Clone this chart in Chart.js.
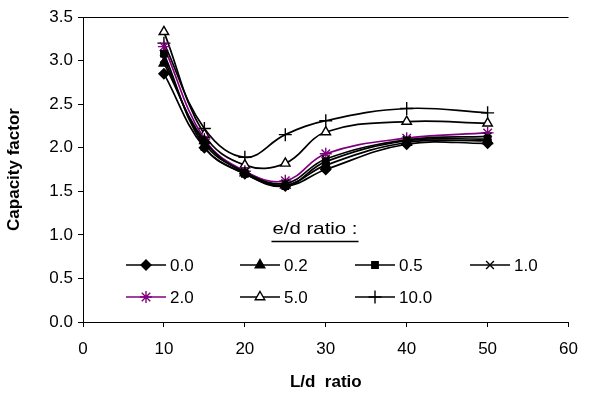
<!DOCTYPE html>
<html><head><meta charset="utf-8">
<script src="https://cdn.jsdelivr.net/npm/chart.js@4/dist/chart.umd.min.js"></script>
<style>html,body{margin:0;padding:0;background:#fff}#wrap{width:590px;height:397px}</style>
</head><body><div id="wrap"><canvas id="c" width="590" height="397"></canvas></div>
<script>
const xValues = [10, 15, 20, 25, 30, 40, 50];
const labels = ['0.0', '0.2', '0.5', '1.0', '2.0', '5.0', '10.0'];
const s00 = [2.85, 2.00, 1.70, 1.56, 1.75, 2.04, 2.05];
const s02 = [2.97, 2.08, 1.71, 1.57, 1.80, 2.06, 2.08];
const s05 = [3.08, 2.01, 1.70, 1.56, 1.84, 2.08, 2.10];
const s10 = [3.02, 2.05, 1.72, 1.59, 1.87, 2.09, 2.13];
const s20 = [3.16, 2.10, 1.73, 1.62, 1.93, 2.11, 2.17];
const s50 = [3.33, 2.15, 1.80, 1.82, 2.18, 2.30, 2.28];
const s100 = [3.20, 2.22, 1.89, 2.15, 2.31, 2.45, 2.40];
const legendTitle = 'e/d ratio :';

const series = [s00, s02, s05, s10, s20, s50, s100];
const styles = [
  {pointStyle:'rectRot', color:'#000', fill:'#000', r:5},
  {pointStyle:'triangle', color:'#000', fill:'#000', r:5.5},
  {pointStyle:'rect', color:'#000', fill:'#000', r:4.5},
  {pointStyle:'crossRot', color:'#000', fill:'#000', r:5.5},
  {pointStyle:'star', color:'#800080', fill:'#800080', r:6},
  {pointStyle:'triangle', color:'#000', fill:'#fff', r:5.5},
  {pointStyle:'cross', color:'#000', fill:'#000', r:6.5}
];
const FONT = '"Liberation Sans", Arial, sans-serif';
const FS = 17;

const datasets = series.map((s, i) => ({
  label: labels[i],
  data: s.map((v, j) => ({x: xValues[j], y: v})),
  borderColor: styles[i].color,
  backgroundColor: styles[i].fill,
  pointBorderColor: styles[i].color,
  pointBackgroundColor: styles[i].fill,
  pointStyle: styles[i].pointStyle,
  pointRadius: styles[i].r,
  pointBorderWidth: 1.4,
  borderWidth: 1.7,
  tension: 0.4,
  fill: false
}));

const extras = {
  id: 'extras',
  afterDatasetsDraw(chart) {
    const ctx = chart.ctx, a = chart.chartArea;
    ctx.save();
    ctx.strokeStyle = '#000'; ctx.lineWidth = 1;
    ctx.beginPath(); ctx.moveTo(a.left, a.top + 0.5); ctx.lineTo(a.right, a.top + 0.5); ctx.stroke();
    // legend
    ctx.font = FS + 'px ' + FONT;
    ctx.fillStyle = '#000';
    ctx.textBaseline = 'middle';
    ctx.textAlign = 'center';
    ctx.save();
    ctx.translate(315, 229); ctx.scale(1.2, 1);
    ctx.fillText(legendTitle, 0, 0);
    ctx.restore();
    const tw = ctx.measureText(legendTitle).width * 1.2;
    ctx.beginPath(); ctx.moveTo(315 - tw/2 - 1, 241.5); ctx.lineTo(315 + tw/2 + 1, 241.5); ctx.lineWidth = 1.5; ctx.stroke();
    ctx.textAlign = 'left';
    const cols = [126, 240, 355, 470];
    const rows = [265, 297];
    labels.forEach((lab, i) => {
      const cx = cols[i % 4], cy = rows[Math.floor(i / 4)];
      const st = styles[i];
      ctx.strokeStyle = st.color; ctx.lineWidth = 1.7;
      ctx.beginPath(); ctx.moveTo(cx, cy); ctx.lineTo(cx + 40, cy); ctx.stroke();
      ctx.fillStyle = st.fill; ctx.lineWidth = 1.4; ctx.strokeStyle = st.color;
      Chart.helpers.drawPoint(ctx, {pointStyle: st.pointStyle, radius: st.r, borderWidth: 1.4, rotation: 0}, cx + 20, cy);
      ctx.fillStyle = '#000';
      ctx.fillText(lab, cx + 44, cy + 1);
    });
    ctx.restore();
  }
};

new Chart(document.getElementById('c'), {
  type: 'line',
  data: {datasets},
  plugins: [extras],
  options: {
    responsive: false,
    animation: false,
    layout: {padding: {left: 0, right: 19, top: 17, bottom: 0}},
    plugins: {legend: {display: false}, tooltip: {enabled: false}},
    scales: {
      x: {
        type: 'linear', min: 0, max: 60,
        ticks: {stepSize: 10, color: '#000', font: {family: FONT, size: FS}, padding: 12},
        grid: {drawOnChartArea: false, color: '#000', tickLength: 5},
        border: {color: '#000', width: 1},
        title: {display: true, text: 'L/d  ratio', color: '#000', font: {family: FONT, size: FS, weight: 'bold'}, padding: {top: 8}},
        afterFit(s) { s.height = 75; }
      },
      y: {
        min: 0, max: 3.5,
        ticks: {stepSize: 0.5, color: '#000', font: {family: FONT, size: FS}, padding: 5, callback: v => Number(v).toFixed(1)},
        grid: {drawOnChartArea: false, color: '#000', tickLength: 5},
        border: {color: '#000', width: 1},
        title: {display: true, text: 'Capacity factor', color: '#000', font: {family: FONT, size: FS, weight: 'bold'}, padding: {bottom: 4}},
        afterFit(s) { s.width = 83; }
      }
    }
  }
});
</script></body></html>
